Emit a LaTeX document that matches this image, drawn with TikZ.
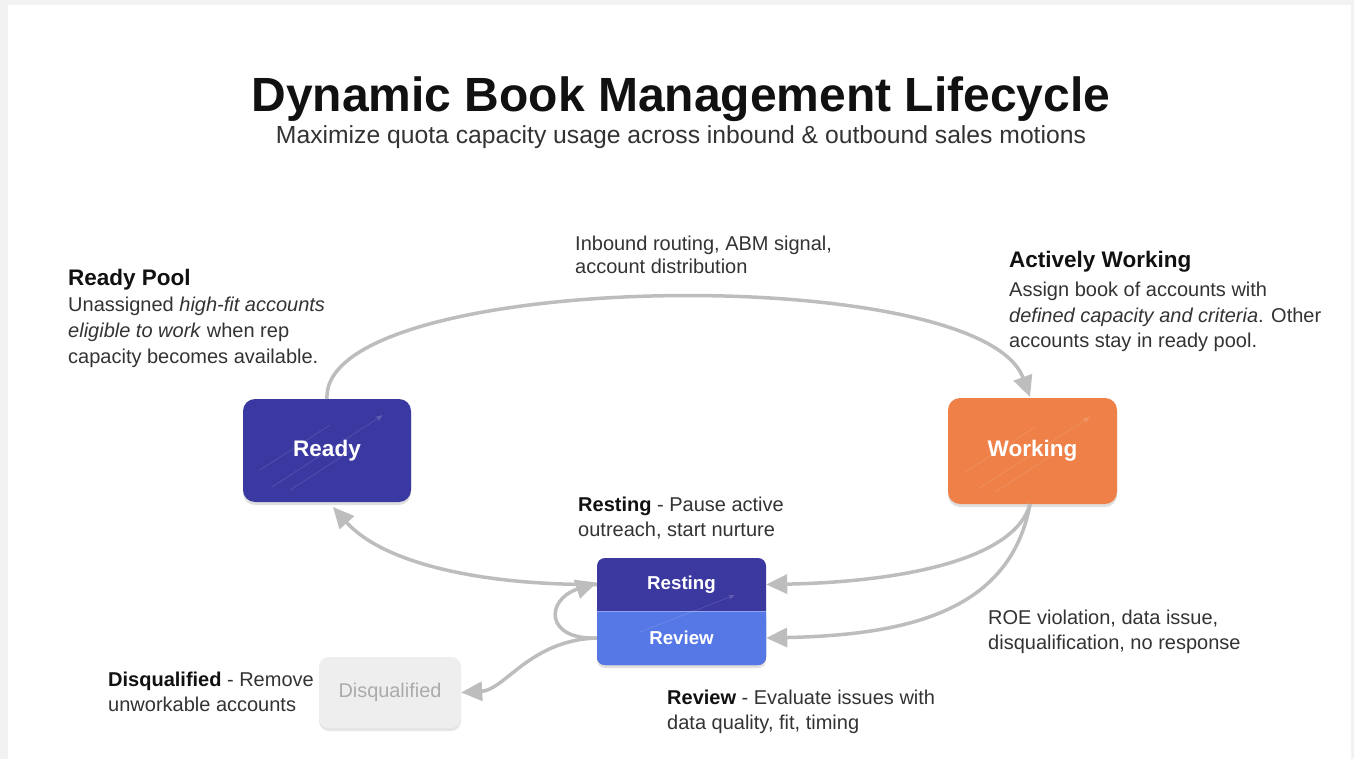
\documentclass[tikz,border=0pt]{standalone}
\usepackage{fontspec}
\setmainfont{Liberation Sans}
\usetikzlibrary{arrows.meta,shadows}
\definecolor{readyc}{HTML}{3A39A1}
\definecolor{workc}{HTML}{EE8048}
\definecolor{restc}{HTML}{3B38A0}
\definecolor{revc}{HTML}{5677E6}
\definecolor{disqf}{HTML}{EEEEEE}
\definecolor{disqt}{HTML}{ABABAB}
\definecolor{linec}{HTML}{BDBDBD}
\definecolor{txt}{HTML}{333333}
\definecolor{head}{HTML}{111111}
\newcommand{\bodyf}{\fontsize{20}{22}\selectfont}
\begin{document}
\begin{tikzpicture}[x=1pt,y=-1pt,
  box/.style={rounded corners=12pt, minimum width=168pt, minimum height=103pt, text=white,
    font=\fontsize{22.5}{24}\selectfont\bfseries, inner sep=0pt,
    drop shadow={opacity=0.25, shadow xshift=0pt, shadow yshift=-3pt}},
  lbl/.style={anchor=base west, inner sep=0pt, text=txt, font=\bodyf},
  hd/.style={anchor=base west, inner sep=0pt, text=head, font=\fontsize{22.5}{24}\selectfont\bfseries},
  conn/.style={draw=linec, line width=3.5pt, -{Triangle[length=21pt,width=19pt]}},
  faint/.style={draw=white, opacity=0.12, line width=0.8pt},
]
\useasboundingbox (0,0) rectangle (1354,759);
\fill[gray!10] (0,0) rectangle (1354,759);
\fill[white, drop shadow={opacity=0.15, shadow xshift=0pt, shadow yshift=0pt}] (8,5) rectangle (1351,775);

% title
\node[anchor=base, inner sep=0pt, text=head, font=\fontsize{48}{52}\selectfont\bfseries] (title) at (681,112) {Dynamic Book Management Lifecycle};
\node[anchor=base, inner sep=0pt, text=txt, font=\fontsize{24.7}{27}\selectfont] (subtitle) at (681,144) {Maximize quota capacity usage across inbound \& outbound sales motions};

% main nodes
\node[box, fill=readyc] (ready) at (327,450.5) {Ready};
\node[box, fill=workc, minimum width=169pt, minimum height=106pt] (working) at (1032.5,451) {Working};
\draw[faint, -{Stealth[length=8pt]}] (272,487) -- (383,415);
\draw[faint] (290,490) -- (360,445);
\draw[faint] (260,470) -- (330,425);
\draw[faint, -{Stealth[length=8pt]}] (978,489) -- (1090,417);
\draw[faint] (995,492) -- (1065,447);
\draw[faint] (965,472) -- (1035,427);

% resting / review
\fill[restc, rounded corners=8pt, drop shadow={opacity=0.25, shadow xshift=0pt, shadow yshift=-3pt}] (597,558) rectangle (766,665);
\fill[revc, rounded corners=8pt] (597,611) rectangle (766,665);
\fill[revc] (597,611) rectangle (766,630);
\draw[white, opacity=0.35, line width=0.6pt] (597,611) -- (766,611);
\draw[faint, -{Stealth[length=7pt]}] (640,632) -- (735,595);
\node[inner sep=0pt, minimum width=169pt, minimum height=53pt, text=white, font=\fontsize{18.7}{20}\selectfont\bfseries] (resting) at (681.5,584.5) {Resting};
\node[inner sep=0pt, minimum width=169pt, minimum height=54pt, text=white, font=\fontsize{18.7}{20}\selectfont\bfseries] (review) at (681.5,638) {Review};

% disqualified
\node[rounded corners=10pt, fill=disqf, minimum width=142pt, minimum height=71pt, inner sep=0pt,
  text=disqt, font=\fontsize{19.9}{22}\selectfont,
  drop shadow={opacity=0.2, shadow xshift=0pt, shadow yshift=-3pt}] (disq) at (390,692.5) {Disqualified};

% connectors
\coordinate (rtop) at (327,399);
\coordinate (wtop) at (1030,397);
\coordinate (wbot) at (1030,504);
\coordinate (rbot) at (333,507);
\draw[conn] (rtop) .. controls (320,270) and (980,260) .. (wtop);
\draw[conn] (wbot) .. controls (1015,560) and (900,582) .. (resting.east);
\draw[conn] (wbot) .. controls (1010,615) and (900,635) .. (review.east);
\draw[conn] (resting.west) .. controls (470,585) and (380,560) .. (rbot);
\draw[conn] (review.west) .. controls (545,640) and (545,600) .. ([yshift=2pt]resting.west);
\draw[conn] (review.west) .. controls (530,640) and (505,690) .. (disq.east);

% texts
\node[hd] (rp) at (68,285) {Ready Pool};
\node[lbl] (rp1) at (68,311) {Unassigned \textit{high-fit accounts}};
\node[lbl] (rp2) at (68,337) {\textit{eligible to work} when rep};
\node[lbl] (rp3) at (68,363) {capacity becomes available.};

\node[hd] (aw) at (1009,268) {Actively Working};
\node[lbl] (aw1) at (1009,296) {Assign book of accounts with};
\node[lbl] (aw2) at (1009,322) {\textit{defined capacity and criteria}. Other};
\node[lbl] (aw3) at (1009,347) {accounts stay in ready pool.};

\node[lbl] (ib1) at (575,251) {Inbound routing, ABM signal,};
\node[lbl] (ib2) at (575,274) {account distribution};

\node[lbl] (rs1) at (578,511) {\textbf{\color{head}Resting} - Pause active};
\node[lbl] (rs2) at (578,536) {outreach, start nurture};

\node[lbl] (roe1) at (988,624) {ROE violation, data issue,};
\node[lbl] (roe2) at (988,649) {disqualification, no response};

\node[lbl] (rv1) at (667,704) {\textbf{\color{head}Review} - Evaluate issues with};
\node[lbl] (rv2) at (667,729) {data quality, fit, timing};

\node[lbl] (dq1) at (108,686) {\textbf{\color{head}Disqualified} - Remove};
\node[lbl] (dq2) at (108,711) {unworkable accounts};
\end{tikzpicture}
\end{document}
